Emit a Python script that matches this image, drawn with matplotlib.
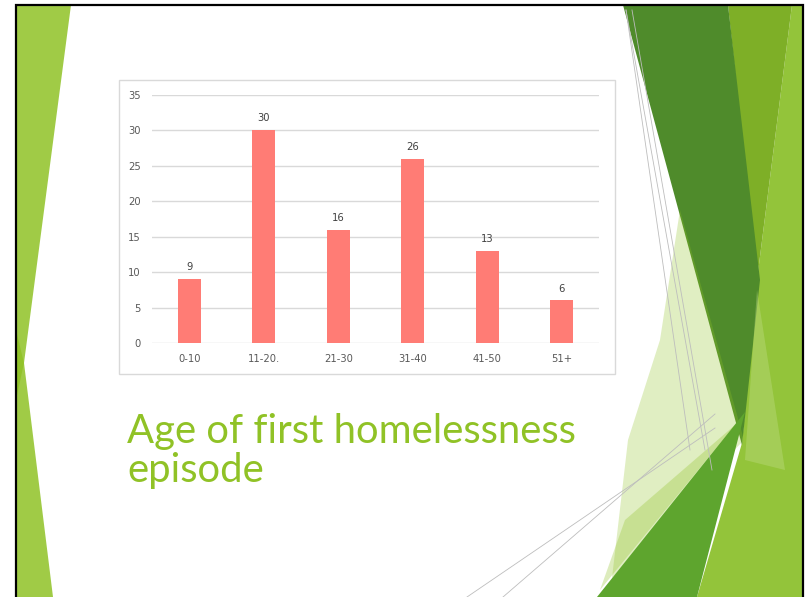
import matplotlib
matplotlib.use("Agg")
import matplotlib.pyplot as plt
from matplotlib.patches import Polygon, Rectangle

# ---- data ----
categories = ["0-10", "11-20.", "21-30", "31-40", "41-50", "51+"]
values = [9, 30, 16, 26, 13, 6]
yticks = [0, 5, 10, 15, 20, 25, 30, 35]
title_lines = ["Age of first homelessness", "episode"]

W, H = 807, 597
fig = plt.figure(figsize=(W / 100, H / 100), dpi=100)
fig.patch.set_facecolor("white")

# ---- slide background / decoration ----
bg = fig.add_axes([0, 0, 1, 1], zorder=0)
bg.set_xlim(0, W)
bg.set_ylim(H, 0)
bg.axis("off")

def poly(pts, color, alpha=1.0, z=1):
    bg.add_patch(Polygon(pts, closed=True, facecolor=color, edgecolor="none",
                         alpha=alpha, zorder=z))

# left strip
poly([(16, 5), (71, 5), (24, 363), (16, 400)], "#90C226", 0.85)
poly([(16, 330), (24, 363), (53, 597), (16, 597)], "#90C226", 0.85)

# right decoration
poly([(792, 5), (803, 5), (803, 597), (697, 597), (742, 443), (757, 280)], "#93C43A", 1.0, 1)
poly([(728, 5), (792, 5), (757, 280)], "#7EAF27", 1.0, 2)
poly([(623, 5), (728, 5), (760, 280), (742, 445)], "#4F8B2B", 1.0, 3)
poly([(757, 290), (785, 470), (745, 460)], "#C6E08F", 0.35, 4)
poly([(680, 210), (744, 440), (612, 578), (628, 440), (660, 340)], "#90C226", 0.28, 4)
poly([(597, 597), (745, 412), (697, 597)], "#5EA52E", 1.0, 5)
poly([(625, 520), (735, 425), (600, 590)], "#90C226", 0.3, 6)

for (x0, y0, x1, y1) in [(626, 10, 690, 450), (626, 10, 705, 450), (632, 10, 712, 470),
                         (467, 597, 715, 428), (503, 597, 715, 414)]:
    bg.plot([x0, x1], [y0, y1], color="#BDBDBD", lw=0.6, zorder=7)

# slide border
bg.plot([16, 16, 803, 803], [597, 5, 5, 597], color="black", lw=1.6, zorder=10,
        solid_capstyle="butt", solid_joinstyle="miter")

# chart box
bg.add_patch(Rectangle((119, 80), 615 - 119, 374 - 80, facecolor="white",
                       edgecolor="#D9D9D9", lw=1.0, zorder=8))

# title
bg.text(127, 443, title_lines[0], fontfamily="Lato", fontsize=28.8,
        color="#90C226", va="baseline", ha="left", zorder=11)
bg.text(127, 482, title_lines[1], fontfamily="Lato", fontsize=28.8,
        color="#90C226", va="baseline", ha="left", zorder=11)

# ---- chart ----
left, right, top, bottom = 152, 599, 95, 343
ax = fig.add_axes([left / W, 1 - bottom / H, (right - left) / W, (bottom - top) / H], zorder=12)
ax.patch.set_alpha(0)
x = list(range(len(categories)))
bars = ax.bar(x, values, width=0.31, color="#FF7C75", zorder=3)
ax.set_xlim(-0.5, len(categories) - 0.5)
ax.set_ylim(0, 35)
ax.set_yticks(yticks)
ax.set_xticks(x)
ax.set_xticklabels(categories)
ax.yaxis.grid(True, color="#D9D9D9", lw=1.0, zorder=0)
ax.set_axisbelow(True)
for s in ax.spines.values():
    s.set_visible(False)
ax.tick_params(axis="both", length=0, labelsize=7.2, labelcolor="#595959")
ax.tick_params(axis="y", pad=8)
ax.tick_params(axis="x", pad=8)
for xi, v in zip(x, values):
    ax.annotate(str(v), (xi, v), xytext=(0, 5), textcoords="offset points",
                ha="center", va="bottom", fontsize=7.2, color="#404040")

fig.savefig("out.png", dpi=100, facecolor="white")
